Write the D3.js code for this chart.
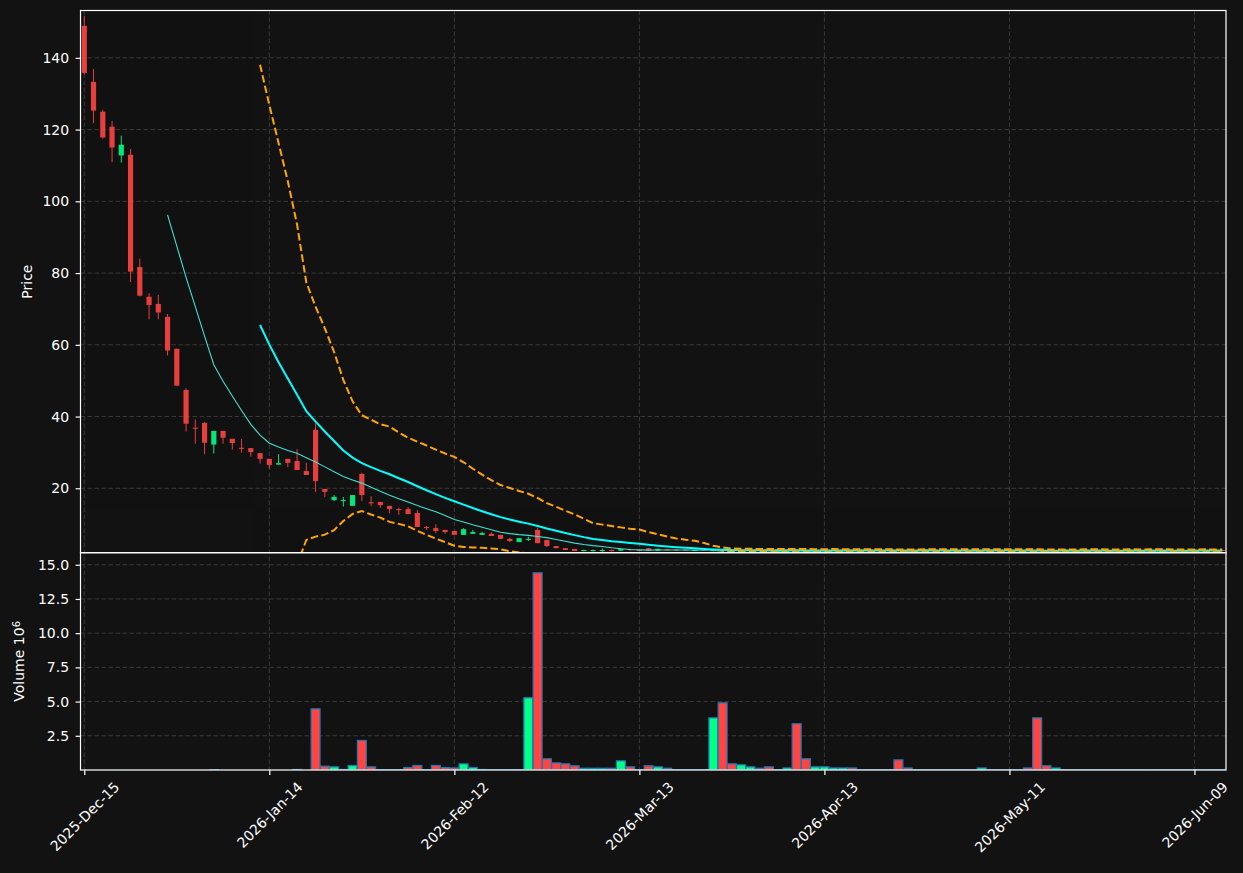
<!DOCTYPE html>
<html><head><meta charset="utf-8">
<script src="https://cdn.jsdelivr.net/npm/d3@7"></script>
<style>body{margin:0;background:#121212;overflow:hidden} svg{display:block}</style>
</head><body>
<svg id="c" width="1243" height="873"></svg>
<script>
const opens=[148.9,133.3,125.0,120.8,112.8,113.0,81.7,73.4,71.4,67.8,58.9,47.4,36.9,38.2,32.2,36.0,33.8,31.3,31.2,29.8,28.2,26.6,28.2,27.6,24.8,36.3,19.8,16.7,16.5,15.1,24.0,16.1,16.2,15.1,14.2,14.2,13.1,9.2,8.9,8.4,8.1,7.0,7.3,7.0,7.3,7.0,5.9,5.0,5.8,8.4,5.6,3.9,3.3,3.1,2.5,2.5,2.6,2.8,2.6,3.0,2.8,3.3,2.6,3.0,2.9,2.9,2.5,2.9,2.5,3.0,2.6,2.4,2.6,2.8,2.7,2.5,2.5,2.8,2.5,2.3,2.6,2.6,2.7,2.9,2.7,2.9,2.6,2.8,2.8,2.6,2.4,2.7,2.9,2.6,2.5,2.8,2.6,2.4,2.7,2.9,2.6,2.8,2.8,2.8,2.5,2.4,2.6,2.9,2.4,2.7,2.5,2.8,2.4,2.6,2.9,2.5,2.7,2.4,2.8,2.6,2.5,2.9,2.7,2.8];
const highs=[151.7,136.9,125.5,122.4,118.3,114.6,84.0,74.4,73.9,68.6,58.9,47.9,39.2,38.5,36.0,36.0,33.8,33.7,31.2,29.8,28.2,29.5,28.2,30.9,27.1,38.1,19.8,18.1,17.6,18.1,24.3,17.8,16.2,15.1,14.6,14.8,13.9,9.5,10.0,8.4,8.1,8.9,8.4,7.9,7.8,7.0,6.2,6.1,6.5,8.9,5.6,3.9,3.3,3.1,2.9,2.9,3.2,2.9,3.3,3.2,2.9,3.4,3.2,3.1,3.0,2.9,2.9,3.0,3.2,3.1,2.7,2.8,2.9,2.8,2.8,2.6,2.8,2.9,2.6,2.7,2.8,2.9,3.0,2.9,3.0,2.95,2.9,2.85,2.9,2.65,2.75,3.0,2.95,2.7,2.85,2.85,2.65,2.8,2.95,2.95,2.85,2.85,2.85,2.9,2.6,2.7,2.95,2.95,2.75,2.75,2.85,2.85,2.65,2.95,2.95,2.75,2.75,2.85,2.85,2.65,2.95,2.95,2.75,2.85];
const lows=[135.4,121.8,117.5,110.9,110.8,77.5,73.5,67.1,67.1,57.0,48.6,35.8,32.4,29.5,29.7,32.4,30.8,29.9,28.8,26.9,25.5,26.6,25.9,25.1,23.7,18.9,17.5,16.4,14.9,15.1,16.4,15.0,14.6,13.0,12.6,12.8,9.2,8.4,7.5,7.3,7.0,7.0,7.3,7.0,6.7,5.9,5.0,5.0,5.3,4.7,3.6,3.3,2.8,2.5,2.4,2.4,2.3,2.4,2.5,2.5,2.7,2.5,2.5,2.7,2.6,2.5,2.5,2.5,2.4,2.4,2.3,2.4,2.6,2.5,2.4,2.4,2.5,2.3,2.2,2.3,2.5,2.6,2.7,2.6,2.6,2.5,2.55,2.45,2.4,2.35,2.4,2.65,2.55,2.4,2.45,2.55,2.35,2.4,2.65,2.55,2.55,2.45,2.6,2.3,2.3,2.4,2.55,2.35,2.35,2.45,2.45,2.35,2.35,2.55,2.45,2.45,2.35,2.35,2.55,2.45,2.45,2.65,2.55,2.45];
const closes=[135.8,125.3,117.8,115.0,115.8,80.4,73.7,71.1,69.0,58.4,48.6,38.0,36.6,32.7,36.0,34.1,32.6,31.0,30.1,28.2,26.5,27.0,27.1,25.1,23.7,22.0,19.0,17.6,16.7,18.1,18.1,15.8,15.3,14.2,13.9,12.8,9.2,8.9,8.1,7.8,7.0,8.6,7.8,7.5,6.7,5.9,5.3,6.1,5.9,4.7,3.9,3.3,2.8,2.5,2.8,2.8,2.8,2.5,3.1,2.8,2.75,2.6,3.1,2.8,2.7,2.6,2.8,2.6,3.0,2.5,2.4,2.7,2.8,2.6,2.5,2.5,2.7,2.4,2.3,2.6,2.7,2.8,2.9,2.7,2.9,2.6,2.8,2.5,2.5,2.4,2.7,2.9,2.6,2.5,2.8,2.6,2.4,2.7,2.9,2.6,2.8,2.5,2.7,2.4,2.4,2.6,2.9,2.4,2.7,2.5,2.8,2.4,2.6,2.9,2.5,2.7,2.4,2.8,2.6,2.5,2.9,2.7,2.6,2.5];
const volumes=[0,0,0,0,0,0,0,0,0,0,0,0,0,0,0.03,0,0,0,0,0,0,0,0,0.04,0,4.47,0.28,0.23,0.04,0.33,2.16,0.23,0.03,0.03,0.03,0.18,0.33,0.03,0.33,0.18,0.15,0.45,0.18,0.04,0.03,0.03,0.03,0.03,5.28,14.41,0.82,0.52,0.45,0.31,0.13,0.13,0.13,0.13,0.67,0.23,0.03,0.31,0.23,0.13,0.03,0.03,0.03,0.03,3.81,4.91,0.45,0.38,0.23,0.13,0.23,0.03,0.15,3.38,0.82,0.23,0.23,0.15,0.15,0.15,0.02,0.02,0.02,0.02,0.74,0.15,0.02,0.02,0.02,0.02,0.02,0.02,0.02,0.15,0.02,0.02,0.02,0.02,0.15,3.81,0.31,0.15,0.02,0.02,0.02,0.02,0.02,0.02,0.02,0.02,0.02,0.02,0.02,0.02,0.02,0.02,0.02,0.02,0.03,0.03];
const n9=Array(9).fill(null), n19=Array(19).fill(null);
const ma10=n9.concat([96.23,87.51,78.78,70.66,62.43,54.45,49.82,45.71,41.70,37.81,34.79,32.58,31.48,30.53,29.77,
28.54,27.33,25.97,24.63,23.29,22.28,21.44,20.32,19.14,18.05,17.07,16.15,15.17,14.30,13.44,
12.41,11.30,10.58,9.83,9.16,8.44,7.75,7.36,7.08,6.86,6.55,6.24,5.71,5.21,4.71,
4.32,4.01,3.76,3.40,3.12,2.93,2.82,2.75,2.78,2.81,2.80,2.78,2.77,2.79,2.78,
2.75,2.71,2.72,2.69,2.67,2.65,2.64,2.63,2.61,2.54,2.55,2.58,2.59,2.60,2.61,
2.65,2.66,2.67,2.68,2.70,2.68,2.64,2.69,2.66,2.64,2.63,2.61,2.59,2.61,2.65,
2.67,2.68,2.64,2.65,2.64,2.60,2.60,2.65,2.62,2.60,2.59,2.59,2.58,2.57,2.62,
2.63,2.64,2.59,2.63,2.62,2.62,2.63,2.66,2.66,2.62]);
const ma20=n19.concat([65.51,60.05,55.13,50.60,46.10,41.50,38.58,35.84,33.17,30.55,28.54,27.01,25.90,24.84,23.91,
22.80,21.74,20.57,19.46,18.36,17.34,16.37,15.45,14.49,13.61,12.75,11.95,11.27,10.69,10.15,
9.48,8.77,8.14,7.52,6.94,6.38,5.88,5.56,5.24,4.99,4.74,4.53,4.23,3.99,3.76,
3.56,3.39,3.27,3.09,2.95,2.84,2.76,2.73,2.73,2.74,2.72,2.71,2.70,2.70,2.66,
2.65,2.65,2.66,2.65,2.64,2.65,2.65,2.65,2.65,2.62,2.61,2.63,2.64,2.63,2.63,
2.64,2.65,2.63,2.65,2.67,2.67,2.68,2.67,2.66,2.64,2.61,2.61,2.62,2.61,2.63,
2.63,2.63,2.61,2.61,2.63,2.61,2.62,2.62,2.62,2.61,2.60,2.61,2.62,2.62,2.62]);
const bbUpper=n19.concat([138.10,126.87,116.25,105.59,93.48,77.39,70.63,64.61,58.00,50.22,44.23,40.37,39.11,37.85,37.19,
35.54,34.08,33.00,31.92,30.76,29.69,28.75,27.25,25.45,23.82,22.27,20.91,20.06,19.25,18.48,
17.29,15.86,14.84,13.75,12.72,11.48,10.28,9.87,9.46,9.10,8.74,8.48,7.79,7.18,6.54,
6.02,5.64,5.35,4.73,3.96,3.48,3.21,3.11,3.11,3.10,3.10,3.10,3.09,3.10,3.05,
3.03,3.03,3.04,2.99,2.98,3.01,3.01,3.01,3.01,2.95,2.96,2.96,2.99,2.97,2.97,
2.99,2.99,2.99,2.99,3.00,3.00,3.01,3.00,2.97,2.97,2.94,2.94,2.96,2.96,2.97,
2.97,2.98,2.94,2.94,2.98,2.96,2.97,2.97,2.98,2.94,2.94,2.96,2.97,2.96,2.96]);
const bbLower=n19.concat([-7.08,-6.78,-5.99,-4.40,-1.28,5.60,6.52,7.07,8.33,10.88,12.84,13.65,12.69,11.82,10.63,
10.07,9.40,8.14,7.01,5.97,5.00,3.99,3.65,3.52,3.39,3.24,2.99,2.47,2.13,1.82,
1.67,1.68,1.45,1.29,1.15,1.28,1.48,1.25,1.02,0.88,0.74,0.58,0.67,0.81,0.98,
1.09,1.15,1.19,1.45,1.93,2.20,2.31,2.36,2.36,2.37,2.35,2.32,2.32,2.30,2.27,
2.26,2.26,2.27,2.30,2.30,2.29,2.29,2.29,2.28,2.29,2.27,2.30,2.29,2.29,2.28,
2.29,2.30,2.27,2.30,2.35,2.35,2.35,2.33,2.34,2.31,2.29,2.28,2.27,2.28,2.28,
2.29,2.29,2.28,2.28,2.28,2.27,2.27,2.27,2.27,2.28,2.27,2.26,2.27,2.27,2.28]);
const tickIdx=[0,20,40,60,80,100,120];
const tickLabels=["2025-Dec-15","2026-Jan-14","2026-Feb-12","2026-Mar-13","2026-Apr-13","2026-May-11","2026-Jun-09"];
const priceTicks=[20,40,60,80,100,120,140];
const volTicks=[2.5,5.0,7.5,10.0,12.5,15.0];

const W=1243,H=873,L=80.5,R=1226,PT=10.5,PB=552.7,VB=770;
const x=d3.scaleLinear().domain([-0.41,123.41]).range([L,R]);
const yP=d3.scaleLinear().domain([2.04,153.2]).range([PB,PT]);
const yV=d3.scaleLinear().domain([0,15.88]).range([VB,PB]);
const step=x(1)-x(0);
const svg=d3.select('#c');
svg.append('rect').attr('width',W).attr('height',H).attr('fill','#121212');
const defs=svg.append('defs');
defs.append('clipPath').attr('id','cp').append('rect').attr('x',L).attr('y',PT).attr('width',R-L).attr('height',PB-PT);
defs.append('clipPath').attr('id','cv').append('rect').attr('x',L).attr('y',PB).attr('width',R-L).attr('height',VB-PB);
const grid=svg.append('g').attr('stroke','#3a3a3a').attr('stroke-width',1).attr('stroke-dasharray','4.5,2.5');
priceTicks.forEach(t=>grid.append('line').attr('x1',L).attr('x2',R).attr('y1',yP(t)).attr('y2',yP(t)));
volTicks.forEach(t=>grid.append('line').attr('x1',L).attr('x2',R).attr('y1',yV(t)).attr('y2',yV(t)));
tickIdx.forEach(t=>grid.append('line').attr('x1',x(t)).attr('x2',x(t)).attr('y1',PT).attr('y2',VB));
const UP='#00ff88',DN='#ff4444';
svg.append('g').attr('clip-path','url(#cv)').selectAll('rect').data(volumes).join('rect')
 .attr('x',(d,i)=>x(i)-step*0.485).attr('width',step*0.97)
 .attr('y',d=>yV(d)).attr('height',d=>VB-yV(d))
 .attr('fill',(d,i)=>closes[i]>=opens[i]?UP:DN).attr('stroke','#1f77b4').attr('stroke-width',1.2);
const cg=svg.append('g').attr('clip-path','url(#cp)').attr('opacity',0.9);
closes.forEach((c,i)=>{
  const col=c>=opens[i]?UP:DN;
  cg.append('line').attr('x1',x(i)).attr('x2',x(i)).attr('y1',yP(highs[i])).attr('y2',yP(lows[i])).attr('stroke',col).attr('stroke-width',1);
  const t=yP(Math.max(c,opens[i])),b=yP(Math.min(c,opens[i]));
  cg.append('rect').attr('x',x(i)-step*0.28).attr('width',step*0.56).attr('y',t).attr('height',Math.max(b-t,1)).attr('fill',col);
});
const lg=svg.append('g').attr('clip-path','url(#cp)').attr('fill','none');
const line=d3.line().defined(d=>d!=null).x((d,i)=>x(i)).y(d=>yP(d));
lg.append('path').attr('d',line(ma10)).attr('stroke','#40e0d0').attr('stroke-width',1.1);
lg.append('path').attr('d',line(ma20)).attr('stroke','#00ffff').attr('stroke-width',2);
lg.append('path').attr('d',line(bbUpper)).attr('stroke','#ffa500').attr('stroke-width',2).attr('stroke-dasharray','7.5,3.3');
lg.append('path').attr('d',line(bbLower)).attr('stroke','#ffa500').attr('stroke-width',2).attr('stroke-dasharray','7.5,3.3');
svg.append('rect').attr('x',L).attr('y',PT).attr('width',R-L).attr('height',PB-PT).attr('fill','none').attr('stroke','#fff').attr('stroke-width',1.2);
svg.append('rect').attr('x',L).attr('y',PB).attr('width',R-L).attr('height',VB-PB).attr('fill','none').attr('stroke','#fff').attr('stroke-width',1.2);
function styleAxis(g){g.select('.domain').remove();g.selectAll('line').attr('stroke','#fff').attr('stroke-width',1.2);
 g.selectAll('text').attr('fill','#fff').style('font-family','DejaVu Sans').style('font-size','14px');}
svg.append('g').attr('transform',`translate(${L},0)`).call(d3.axisLeft(yP).tickValues(priceTicks).tickSize(4.9).tickPadding(6.5).tickFormat(d3.format('d'))).call(styleAxis);
svg.append('g').attr('transform',`translate(${L},0)`).call(d3.axisLeft(yV).tickValues(volTicks).tickSize(4.9).tickPadding(6.5).tickFormat(d3.format('.1f'))).call(styleAxis);
const xa=svg.append('g').attr('transform',`translate(0,${VB})`).call(d3.axisBottom(x).tickValues(tickIdx).tickSize(4.9).tickFormat((d,i)=>tickLabels[i])).call(styleAxis);
xa.selectAll('text').each(function(d){
  const t=d3.select(this);const w=this.getComputedTextLength();const h=14;
  const bb=(w+h)/Math.SQRT2;
  t.attr('y',null).attr('dy','0.35em').attr('text-anchor','middle').attr('transform',`translate(0,${9.5+bb/2}) rotate(-45)`);
});
svg.append('text').attr('transform',`translate(32,${(PT+PB)/2}) rotate(-90)`).attr('text-anchor','middle').attr('fill','#fff').style('font-family','DejaVu Sans').style('font-size','14px').text('Price');
const vl=svg.append('text').attr('transform',`translate(24,${(PB+VB)/2}) rotate(-90)`).attr('text-anchor','middle').attr('fill','#fff').style('font-family','DejaVu Sans').style('font-size','14px');
vl.append('tspan').text('Volume  10');
vl.append('tspan').attr('dy','-0.45em').style('font-size','10px').text('6');
</script>
</body></html>
